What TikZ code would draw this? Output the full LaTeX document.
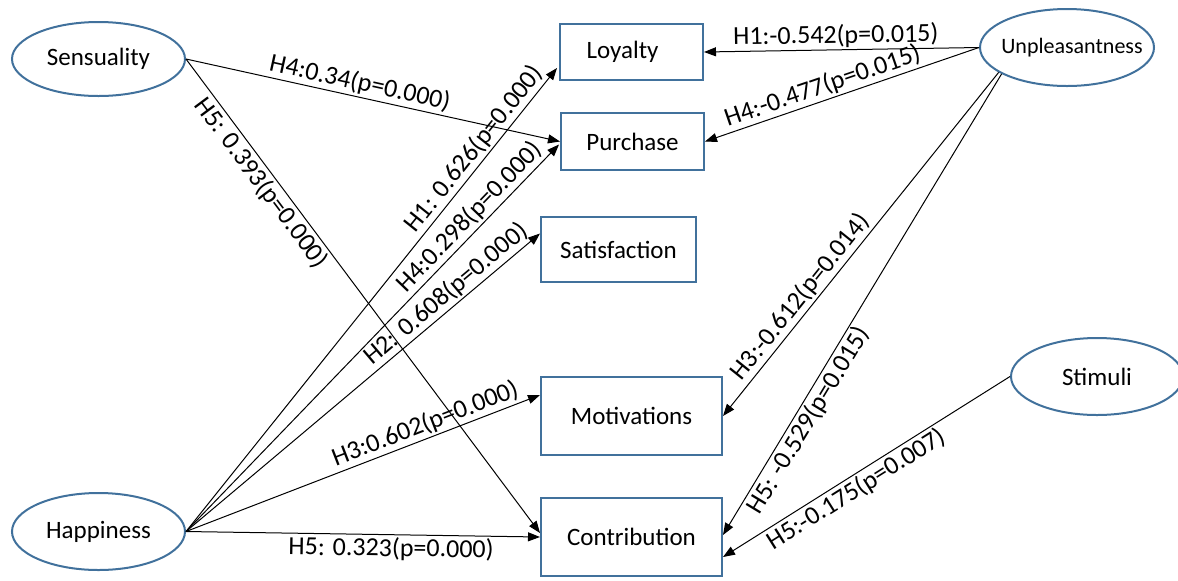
\documentclass[tikz,border=0pt]{standalone}
\usepackage{fontspec}
\setmainfont{Carlito}
\usetikzlibrary{arrows.meta,shapes.geometric,calc}
\definecolor{bord}{RGB}{65,113,156}
\begin{document}
\begin{tikzpicture}[x=0.5pt,y=-0.5pt,
  font=\fontsize{12.5}{15}\selectfont,
  oval/.style={ellipse,draw=bord,line width=1pt,inner sep=0pt},
  box/.style={rectangle,draw=bord,line width=1pt,inner sep=0pt},
  conn/.style={draw=black,line width=0.5pt,-{Triangle[length=6pt,width=4.5pt]}},
  connr/.style={draw=black,line width=0.5pt,{Triangle[length=6pt,width=4.5pt]}-},
  lab/.style={sloped,inner sep=1pt,font=\fontsize{13}{15}\selectfont}]
\useasboundingbox (0,0) rectangle (1178,580);
% ellipses
\node[oval,minimum width=86.5pt,minimum height=37pt] (sen) at (98.5,59) {\makebox[0pt]{Sensuality}};
\node[oval,minimum width=86.5pt,minimum height=38.5pt] (hap) at (98.5,531.5) {\makebox[0pt]{Happiness}};
\node[oval,minimum width=87pt,minimum height=38.5pt] (unp) at (1067,47.5) {\makebox[0pt]{\kern5pt\fontsize{11}{13}\selectfont Unpleasantness}};
\node[oval,minimum width=86pt,minimum height=38.5pt] (sti) at (1097,376.5) {\makebox[0pt]{Stimuli}};
% boxes
\node[box,minimum width=71.5pt,minimum height=28pt] (loy) at (631.5,52) {\kern-9pt Loyalty};
\node[box,minimum width=71.5pt,minimum height=28.5pt] (pur) at (632.5,141.5) {Purchase};
\node[box,minimum width=77.5pt,minimum height=32.5pt] (sat) at (618.5,249.5) {Satisfaction};
\node[box,minimum width=90.5pt,minimum height=39pt] (mot) at (631.5,416) {Motivations};
\node[box,minimum width=90.5pt,minimum height=39pt] (con) at (631.5,537) {Contribution};
% connectors
\draw[conn] (sen.east) -- node[lab,pos=0.457,above]{H4:0.34(p=0.000)} (pur.west);
\draw[conn] (sen.east) -- node[lab,pos=0.244,below]{H5: 0.393(p=0.000)} ($(con.west)+(0,-4)$);
\draw[conn] (hap.east) -- node[lab,pos=0.806,above]{H1: 0.626(p=0.000)} ($(loy.west)+(-2,16)$);
\draw[conn] (hap.east) -- node[lab,pos=0.787,above]{H4:0.298(p=0.000)} ($(pur.west)+(-1,3)$);
\draw[conn] (hap.east) -- node[lab,pos=0.76,above]{H2: 0.608(p=0.000)} ($(sat.west)+(0,-16)$);
\draw[conn] (hap.east) -- node[lab,pos=0.69,above]{H3:0.602(p=0.000)} ($(mot.west)+(0,-21)$);
\draw[conn] (hap.east) -- node[lab,pos=0.58,below]{H5: 0.323(p=0.000)} (con.west);
\draw[connr] (loy.east) -- node[lab,pos=0.48,above]{H1:-0.542(p=0.015)} (unp.west);
\draw[connr] (pur.east) -- node[lab,pos=0.446,above]{H4:-0.477(p=0.015)} (unp.west);
\draw[connr] (mot.east) -- node[lab,pos=0.32,above]{H3:-0.612(p=0.014)} (unp.200);
\draw[connr] ($(con.east)+(0,-2)$) -- node[lab,pos=0.264,below]{H5: -0.529(p=0.015)} (unp.202);
\draw[connr] ($(con.east)+(0,20)$) -- node[lab,pos=0.44,below]{H5:-0.175(p=0.007)} (sti.west);
\end{tikzpicture}
\end{document}
